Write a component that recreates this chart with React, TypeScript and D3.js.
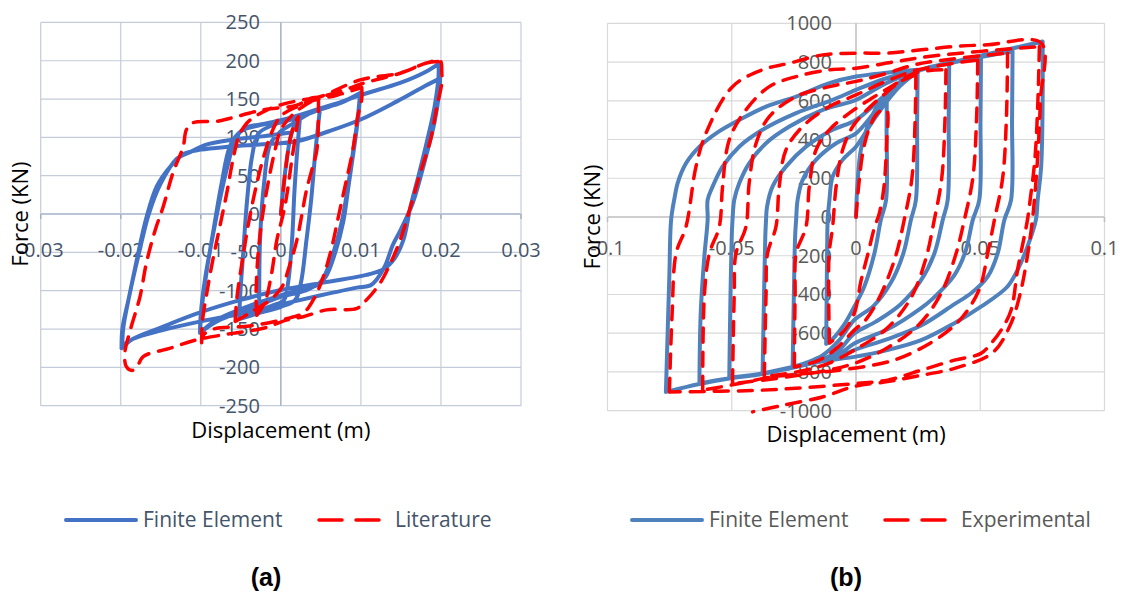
import React from "react";
import * as d3 from "d3";

type Pt = [number, number];

// ---------- Panel (a): displacement (m) vs force (kN) ----------
const xTicksA = [-0.03, -0.02, -0.01, 0, 0.01, 0.02, 0.03];
const yTicksA = [-250, -200, -150, -100, -50, 0, 50, 100, 150, 200, 250];

const feA: Pt[] = [
  [0, 0], [0.0006, 60], [0.0012, 100], [0.0018, 118], [0.0024, 127],
  [0.0021, 90], [0.0017, 30], [0.0014, -34], [0.0009, -90], [0.0004, -112], [-0.001, -119], [-0.0027, -125],
  [-0.0027, -100], [-0.0026, -34], [-0.0021, 40], [-0.0013, 92], [0, 108], [0.0015, 118], [0.003, 128], [0.0049, 138],
  [0.0046, 110], [0.0043, 80], [0.0038, 20], [0.0032, -34], [0.0025, -90], [0.0018, -112], [0, -121], [-0.003, -130], [-0.0052, -137],
  [-0.0051, -110], [-0.0047, -50], [-0.0042, 20], [-0.0036, 75], [-0.0028, 105], [-0.001, 116], [0.002, 125], [0.005, 137], [0.0075, 145], [0.0099, 158],
  [0.0097, 130], [0.0092, 90], [0.0085, 40], [0.0078, -10], [0.0068, -50], [0.0056, -82], [0.0045, -93], [0.002, -100], [0, -106], [-0.004, -120], [-0.008, -138], [-0.0101, -155],
  [-0.01, -130], [-0.0094, -80], [-0.0086, -34], [-0.0076, 20], [-0.0066, 65], [-0.0056, 100], [-0.0045, 112], [-0.002, 118], [0.001, 125], [0.005, 138], [0.008, 148], [0.0099, 158],
  [0.0096, 125], [0.009, 80], [0.0083, 30], [0.0075, -15], [0.0064, -55], [0.005, -88], [0.003, -100], [0, -108], [-0.004, -124], [-0.008, -140], [-0.0101, -155],
  [-0.0099, -125], [-0.0092, -70], [-0.0084, -20], [-0.0074, 40], [-0.0063, 90], [-0.005, 108], [-0.0026, 116], [0.001, 125], [0.006, 140], [0.0099, 155], [0.0149, 171], [0.018, 185], [0.0197, 196],
  [0.0197, 180], [0.0192, 140], [0.0183, 97], [0.0172, 50], [0.0162, 10], [0.0153, -34], [0.0142, -58], [0.0128, -72], [0.0112, -78], [0.0095, -82], [0.005, -90], [0, -99], [-0.005, -112], [-0.01, -128], [-0.015, -148], [-0.0185, -163], [-0.0199, -175],
  [-0.0198, -150], [-0.019, -110], [-0.018, -60], [-0.0168, -5], [-0.0155, 36], [-0.0138, 62], [-0.0122, 78], [-0.01, 84], [-0.0063, 88], [-0.0022, 91], [0.002, 95], [0.006, 108], [0.0099, 123], [0.0145, 147], [0.018, 167], [0.0199, 177],
  [0.0198, 160], [0.0192, 120], [0.018, 70], [0.0165, 15], [0.015, -20], [0.014, -40], [0.013, -68], [0.012, -85], [0.0112, -93], [0.0095, -96], [0.005, -106], [0, -118], [-0.005, -130], [-0.01, -140], [-0.015, -152], [-0.0185, -163], [-0.0198, -172],
  [-0.0197, -150], [-0.0189, -105], [-0.0177, -50], [-0.0165, 0], [-0.015, 40], [-0.013, 72], [-0.0115, 80], [-0.0095, 90], [-0.006, 97], [-0.0026, 101], [0.001, 106],
];

const litA: Pt[] = [
  [0, 0], [0.0005, 50], [0.0012, 100], [0.0018, 120], [0.0022, 127],
  [0.0015, 80], [0.0005, 10], [-0.0005, -34], [-0.0012, -80], [-0.002, -115], [-0.003, -132],
  [-0.0031, -110], [-0.0029, -60], [-0.0024, -10], [-0.0016, 40], [-0.0008, 80], [0, 110], [0.0015, 130], [0.003, 142], [0.0047, 152],
  [0.0047, 140], [0.0045, 84], [0.0038, 55], [0.0032, 31], [0.002, -34], [0.001, -70], [0.0002, -94], [-0.0012, -111], [-0.0039, -129], [-0.0057, -140],
  [-0.0055, -110], [-0.0048, -60], [-0.004, -10], [-0.003, 40], [-0.002, 80], [-0.001, 110], [0, 128], [0.002, 140], [0.004, 148], [0.007, 155], [0.0101, 165],
  [0.0101, 150], [0.0096, 127], [0.009, 84], [0.0081, 40], [0.0072, -3], [0.0063, -46], [0.0052, -85], [0.0041, -111], [0.0028, -129], [0.0005, -137], [-0.0039, -146], [-0.0084, -150], [-0.0097, -158], [-0.0099, -168],
  [-0.0098, -140], [-0.0092, -100], [-0.0085, -60], [-0.0077, -20], [-0.0068, 25], [-0.006, 70], [-0.0053, 100], [-0.0046, 114], [-0.0038, 123], [-0.0017, 136], [0.0005, 144], [0.0028, 149], [0.005, 153], [0.008, 162], [0.0101, 170], [0.015, 184], [0.0182, 197], [0.0199, 200],
  [0.0201, 185], [0.0201, 171], [0.0195, 140], [0.0187, 97], [0.0174, 53], [0.0162, 9.5], [0.0149, -34], [0.0137, -64], [0.0124, -90], [0.0107, -112], [0.0095, -123], [0.0057, -125], [0.0028, -134], [0.0008, -138], [-0.0022, -149], [-0.0063, -156], [-0.0105, -164], [-0.0138, -175], [-0.0172, -186], [-0.018, -200], [-0.0186, -204], [-0.0193, -199],
  [-0.0195, -182], [-0.0188, -151], [-0.0176, -108], [-0.0168, -64], [-0.0157, -21], [-0.0147, 9.5], [-0.0135, 53], [-0.0122, 88], [-0.0118, 110], [-0.011, 119], [-0.008, 121], [-0.0063, 125], [-0.0022, 136], [0.002, 142], [0.0037, 151], [0.0049, 153], [0.0099, 175], [0.0149, 184], [0.0182, 197], [0.0199, 199],
];

// ---------- Panel (b) ----------
const xTicksB = [-0.1, -0.05, 0, 0.05, 0.1];
const yTicksB = [-1000, -800, -600, -400, -200, 0, 200, 400, 600, 800, 1000];

const feB: Pt[] = [
  [0, 0], [0.0005, 150], [0.002, 350], [0.005, 480], [0.009, 580], [0.0124, 630],
  [0.0123, 450], [0.0121, 88], [0.01, -15], [0.0074, -188], [0.0033, -360], [-0.0007, -463], [-0.005, -560], [-0.0094, -630], [-0.012, -655],
  [-0.0118, -400], [-0.0116, -150], [-0.0114, -15], [-0.0107, 88], [-0.0094, 208], [-0.0054, 295], [0, 363], [0.006, 480], [0.012, 590], [0.018, 680], [0.0248, 751],
  [0.0246, 500], [0.0241, 88], [0.0221, -15], [0.019, -190], [0.014, -340], [0.007, -460], [-0.0007, -532], [-0.007, -640], [-0.0135, -715], [-0.02, -752], [-0.0255, -774],
  [-0.025, -400], [-0.0245, -100], [-0.0241, -15], [-0.0235, 88], [-0.0215, 191], [-0.0161, 295], [-0.008, 381], [0, 432], [0.008, 550], [0.016, 670], [0.0248, 753], [0.0375, 794],
  [0.0373, 500], [0.0369, 88], [0.0349, -15], [0.0315, -190], [0.026, -330], [0.018, -450], [0.008, -540], [-0.0007, -601], [-0.007, -690], [-0.0135, -735], [-0.0256, -774], [-0.0376, -808],
  [-0.037, -400], [-0.0365, -100], [-0.0362, -15], [-0.0358, 53], [-0.0336, 157], [-0.0282, 260], [-0.0201, 363], [-0.0094, 450], [0, 501], [0.01, 610], [0.018, 700], [0.0248, 754], [0.0503, 828],
  [0.0501, 500], [0.0496, 88], [0.047, -15], [0.044, -180], [0.0396, -300], [0.031, -420], [0.0262, -470], [0.0127, -580], [-0.0007, -653], [-0.007, -712], [-0.0135, -740], [-0.0256, -776], [-0.0377, -808], [-0.051, -830],
  [-0.0505, -400], [-0.05, -100], [-0.0497, -15], [-0.049, 88], [-0.047, 174], [-0.043, 277], [-0.0362, 381], [-0.0268, 467], [-0.0134, 553], [0, 605], [0.012, 690], [0.0248, 755], [0.063, 856],
  [0.0628, 500], [0.0624, 88], [0.0597, -15], [0.057, -188], [0.053, -308], [0.0463, -394], [0.0396, -450], [0.0262, -560], [0.0127, -630], [-0.0007, -687], [-0.007, -725], [-0.0135, -742], [-0.0256, -777], [-0.0377, -810], [-0.051, -832], [-0.063, -859],
  [-0.0625, -500], [-0.061, -200], [-0.0597, -15], [-0.0597, 88], [-0.0577, 157], [-0.0537, 260], [-0.047, 363], [-0.0376, 450], [-0.0241, 536], [-0.0094, 605], [0, 656], [0.012, 715], [0.0248, 757], [0.0751, 906],
  [0.0751, 605], [0.0745, 260], [0.0731, 88], [0.0724, -15], [0.069, -153], [0.065, -274], [0.0609, -360], [0.0503, -463], [0.0396, -548], [0.0262, -636], [0.0126, -687], [-0.0007, -722], [-0.0135, -745], [-0.0256, -778], [-0.0377, -811], [-0.051, -834], [-0.063, -862], [-0.0765, -903],
  [-0.0758, -600], [-0.0751, -300], [-0.0744, -15], [-0.073, 100], [-0.0718, 174], [-0.0684, 277], [-0.063, 363], [-0.0563, 432], [-0.047, 501], [-0.0362, 570], [-0.0241, 622], [-0.0107, 691], [0, 725], [0.0124, 745], [0.0248, 760],
];

const expB: Pt[] = [
  [0, 0], [0.001, 150], [0.003, 350], [0.006, 480], [0.009, 540], [0.0115, 555], [0.0126, 545],
  [0.0124, 400], [0.0112, 150], [0.0094, 20], [0.0073, -60], [0.005, -180], [0.002, -330], [-0.0007, -498], [-0.005, -590], [-0.0107, -651],
  [-0.011, -400], [-0.0108, -188], [-0.0094, -50], [-0.008, 157], [-0.0054, 346], [-0.0013, 467], [0.005, 560], [0.012, 640], [0.018, 700], [0.0241, 735],
  [0.0238, 500], [0.0225, 200], [0.0194, -15], [0.016, -200], [0.01, -400], [0.004, -530], [-0.0007, -584], [-0.008, -680], [-0.015, -740], [-0.0248, -774],
  [-0.0245, -400], [-0.0241, -188], [-0.0201, -50], [-0.0188, 157], [-0.0161, 346], [-0.0107, 450], [-0.0027, 536], [0.006, 610], [0.015, 680], [0.0241, 745], [0.0362, 760],
  [0.0358, 500], [0.0345, 200], [0.0315, -15], [0.028, -220], [0.022, -420], [0.012, -580], [-0.0007, -687], [-0.01, -750], [-0.02, -790], [-0.0369, -825],
  [-0.0362, -400], [-0.0356, -188], [-0.0322, -50], [-0.0309, 157], [-0.0282, 346], [-0.0215, 467], [-0.0107, 570], [0, 630], [0.012, 700], [0.025, 760], [0.049, 811],
  [0.0485, 500], [0.047, 200], [0.0436, -15], [0.04, -200], [0.034, -400], [0.025, -560], [0.012, -680], [-0.0007, -756], [-0.015, -800], [-0.03, -830], [-0.0497, -860],
  [-0.049, -400], [-0.0483, -188], [-0.0443, -50], [-0.043, 174], [-0.0402, 381], [-0.0349, 518], [-0.0241, 622], [-0.0107, 673], [0, 700], [0.012, 740], [0.025, 790], [0.061, 846],
  [0.0605, 500], [0.059, 200], [0.0557, -15], [0.053, -188], [0.05, -360], [0.045, -480], [0.0396, -560], [0.03, -650], [0.015, -740], [-0.0067, -791], [-0.0201, -808], [-0.0336, -825], [-0.047, -860], [-0.0617, -894],
  [-0.061, -400], [-0.059, -188], [-0.055, -50], [-0.0537, 157], [-0.051, 398], [-0.0443, 553], [-0.0349, 673], [-0.0241, 725], [-0.0107, 760], [0, 768], [0.015, 800], [0.03, 830], [0.0738, 880],
  [0.0732, 600], [0.072, 300], [0.07, 80], [0.069, -15], [0.0677, -102], [0.065, -274], [0.0624, -481], [0.0584, -584], [0.0543, -653], [0.0503, -704], [0.0396, -739], [0.0262, -791], [0.0127, -842], [-0.0007, -860], [-0.02, -880], [-0.04, -895], [-0.0751, -903],
  [-0.074, -500], [-0.0724, -188], [-0.0684, -50], [-0.0644, 260], [-0.0604, 432], [-0.0497, 673], [-0.0376, 760], [-0.0268, 794], [-0.0134, 837], [0, 846], [0.0127, 846], [0.0262, 863], [0.0396, 880], [0.053, 889], [0.0745, 898],
  [0.0742, 600], [0.0728, 250], [0.071, -15], [0.069, -200], [0.066, -400], [0.062, -560], [0.055, -700], [0.04, -780], [0.025, -820], [0.0127, -850], [-0.0007, -875], [-0.0135, -929], [-0.0295, -972], [-0.0416, -1006],
];

const FONT = "'Open Sans', 'Liberation Sans', sans-serif";

// Splits a pixel-space polyline wherever it turns back sharply, so that
// load reversals stay as crisp corners while each branch is smoothed.
function branches(pts: Pt[]): Pt[][] {
  const out: Pt[][] = [];
  let cur: Pt[] = [pts[0]];
  for (let i = 1; i < pts.length - 1; i++) {
    cur.push(pts[i]);
    const ax = pts[i][0] - pts[i - 1][0];
    const ay = pts[i][1] - pts[i - 1][1];
    const bx = pts[i + 1][0] - pts[i][0];
    const by = pts[i + 1][1] - pts[i][1];
    const cos = (ax * bx + ay * by) / (Math.hypot(ax, ay) * Math.hypot(bx, by) || 1);
    if (cos < -0.05) {
      out.push(cur);
      cur = [pts[i]];
    }
  }
  cur.push(pts[pts.length - 1]);
  out.push(cur);
  return out;
}

interface PanelProps {
  xDomain: [number, number];
  yDomain: [number, number];
  xRange: [number, number];
  yRange: [number, number];
  xTicks: number[];
  yTicks: number[];
  blue: Pt[];
  red: Pt[];
  blueColor: string;
  gridColor: string;
  axisColor: string;
  textColor: string;
  xLabelDy: number;
  yLabelDx: number;
  xTitleY: number;
  yTitleX: number;
  legendX: number;
  redName: string;
  caption: string;
  captionX: number;
}

function Panel(p: PanelProps) {
  const x = d3.scaleLinear().domain(p.xDomain).range(p.xRange);
  const y = d3.scaleLinear().domain(p.yDomain).range(p.yRange);
  const smooth = d3.line<Pt>().curve(d3.curveCatmullRom.alpha(0.5));
  const pathOf = (data: Pt[]) =>
    branches(data.map((d) => [x(d[0]), y(d[1])] as Pt))
      .map((b) => smooth(b) ?? "")
      .join("");
  const x0 = x(0);
  const y0 = y(0);
  const [left, right] = p.xRange;
  const [bottom, top] = p.yRange;
  const lx = p.legendX;
  return (
    <g>
      {/* grid */}
      {p.yTicks.map((t) => (
        <line key={"gy" + t} x1={left} x2={right} y1={y(t)} y2={y(t)} stroke={t === 0 ? p.axisColor : p.gridColor} strokeWidth={t === 0 ? 1.5 : 1.2} />
      ))}
      {p.xTicks.map((t) => (
        <line key={"gx" + t} x1={x(t)} x2={x(t)} y1={top} y2={bottom} stroke={t === 0 ? p.axisColor : p.gridColor} strokeWidth={t === 0 ? 1.5 : 1.2} />
      ))}
      {p.xTicks.map((t) => (
        <line key={"tk" + t} x1={x(t)} x2={x(t)} y1={y0} y2={y0 + 5} stroke={p.axisColor} strokeWidth={1.5} />
      ))}
      {/* tick labels */}
      {p.yTicks.map((t) => (
        <text key={"ly" + t} x={x0 - p.yLabelDx} y={y(t) + 7} textAnchor="end" fontFamily={FONT} fontSize={20} fill={p.textColor}>
          {String(t)}
        </text>
      ))}
      {p.xTicks.map((t) => (
        <text key={"lx" + t} x={x(t)} y={y0 + p.xLabelDy} textAnchor="middle" fontFamily={FONT} fontSize={20} fill={p.textColor}>
          {String(t)}
        </text>
      ))}
      {/* series */}
      <path d={pathOf(p.blue)} fill="none" stroke={p.blueColor} strokeWidth={4} strokeLinejoin="round" strokeLinecap="round" />
      <path d={pathOf(p.red)} fill="none" stroke="#ff0000" strokeWidth={3.5} strokeDasharray="14 10" strokeLinejoin="round" strokeLinecap="round" />
      {/* axis titles */}
      <text x={(left + right) / 2} y={p.xTitleY} textAnchor="middle" fontFamily={FONT} fontSize={22} fill="#000">
        Displacement (m)
      </text>
      <text transform={`translate(${p.yTitleX},${(top + bottom) / 2}) rotate(-90)`} textAnchor="middle" fontFamily={FONT} fontSize={22} fill="#000">
        Force (KN)
      </text>
      {/* legend */}
      <line x1={lx} x2={lx + 70} y1={520} y2={520} stroke={p.blueColor} strokeWidth={4} strokeLinecap="round" />
      <text x={lx + 77} y={527} fontFamily={FONT} fontSize={21} fill={p.textColor}>
        Finite Element
      </text>
      <line x1={lx + 253} x2={lx + 314} y1={520} y2={520} stroke="#ff0000" strokeWidth={3.5} strokeDasharray="23 14" strokeLinecap="round" />
      <text x={lx + 329} y={527} fontFamily={FONT} fontSize={21} fill={p.textColor}>
        {p.redName}
      </text>
      <text x={p.captionX} y={586} textAnchor="middle" fontFamily="'Liberation Sans', Arial, sans-serif" fontWeight="bold" fontSize={25} fill="#000">
        {p.caption}
      </text>
    </g>
  );
}

export default function App() {
  return (
    <svg width={1124} height={592} style={{ position: "absolute", left: 0, top: 0, background: "#fff" }}>
      <rect width={1124} height={592} fill="#fff" />
      <Panel
        xDomain={[-0.03, 0.03]}
        yDomain={[-250, 250]}
        xRange={[40.7, 521]}
        yRange={[405.7, 22.4]}
        xTicks={xTicksA}
        yTicks={yTicksA}
        blue={feA}
        red={litA}
        blueColor="#4472c4"
        gridColor="#c5ccd9"
        axisColor="#a3b0c8"
        textColor="#44546a"
        xLabelDy={43}
        yLabelDx={21}
        xTitleY={438}
        yTitleX={28}
        legendX={66}
        redName="Literature"
        caption="(a)"
        captionX={266}
      />
      <Panel
        xDomain={[-0.1, 0.1]}
        yDomain={[-1000, 1000]}
        xRange={[607.5, 1104.5]}
        yRange={[410.7, 23.3]}
        xTicks={xTicksB}
        yTicks={yTicksB}
        blue={feB}
        red={expB}
        blueColor="#4f81bd"
        gridColor="#d9d9d9"
        axisColor="#bfbfbf"
        textColor="#595959"
        xLabelDy={38}
        yLabelDx={24}
        xTitleY={442}
        yTitleX={600}
        legendX={632}
        redName="Experimental"
        caption="(b)"
        captionX={846}
      />
    </svg>
  );
}
